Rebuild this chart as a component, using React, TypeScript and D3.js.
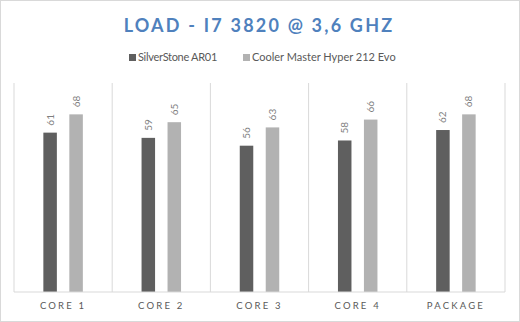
import React from "react";
import * as d3 from "d3";

const categories = ["CORE 1", "CORE 2", "CORE 3", "CORE 4", "PACKAGE"];
const seriesNames = ["SilverStone AR01", "Cooler Master Hyper 212 Evo"];
const silverstone = [61, 59, 56, 58, 62];
const coolerMaster = [68, 65, 63, 66, 68];
const colors = ["#5f5f5f", "#b2b2b2"];

const W = 520, H = 322;
const plot = { left: 14, right: 505, top: 83, bottom: 292 };

export default function App() {
  const x = d3.scaleBand().domain(categories).range([plot.left, plot.right]).padding(0);
  const inner = d3.scaleBand().domain(["0", "1"]).range([0, x.bandwidth()]).paddingInner(0.48).paddingOuter(1.13);
  const y = d3.scaleLinear().domain([0, 80]).range([plot.bottom, plot.top]);
  const series = [silverstone, coolerMaster];
  const font = "Lato, 'Open Sans', sans-serif";

  return (
    <svg width={W} height={H} style={{ position: "absolute", left: 0, top: 0, fontFamily: font }}>
      <rect x={0.5} y={0.5} width={W - 1} height={H - 1} fill="#fff" stroke="#d9d9d9" />
      <text x={259} y={32} textAnchor="middle" fill="#4f81bd" fontSize={18} fontWeight="bold" letterSpacing={2.2}>
        LOAD - I7 3820 @ 3,6 GHZ
      </text>
      {/* legend */}
      <g fontSize={11} fill="#595959">
        <rect x={129} y={54} width={7} height={7} fill={colors[0]} />
        <text x={138} y={61} letterSpacing={-0.3}>{seriesNames[0]}</text>
        <rect x={243} y={54} width={7} height={7} fill={colors[1]} />
        <text x={252} y={61}>{seriesNames[1]}</text>
      </g>
      {/* gridlines / separators */}
      {categories.map((c, i) => (
        <line key={"g" + i} x1={x(c)!} x2={x(c)!} y1={plot.top} y2={plot.bottom} stroke="#d9d9d9" />
      ))}
      <line x1={plot.right} x2={plot.right} y1={plot.top} y2={plot.bottom} stroke="#d9d9d9" />
      {/* bars */}
      {series.map((vals, s) =>
        vals.map((v, i) => {
          const bx = x(categories[i])! + inner(String(s))!;
          const bw = inner.bandwidth();
          return (
            <g key={s + "-" + i}>
              <rect x={bx} y={y(v)} width={bw} height={plot.bottom - y(v)} fill={colors[s]} />
              <text
                transform={`translate(${bx + bw / 2 + 3.5},${y(v) - 7}) rotate(-90)`}
                fontSize={10}
                fill="#7f7f7f"
              >
                {v}
              </text>
            </g>
          );
        })
      )}
      <line x1={plot.left} x2={plot.right} y1={plot.bottom} y2={plot.bottom} stroke="#d9d9d9" />
      {/* category labels */}
      {categories.map((c) => (
        <text key={c} x={x(c)! + x.bandwidth() / 2} y={309} textAnchor="middle" fontSize={9.5} fill="#595959" letterSpacing={2.2}>
          {c}
        </text>
      ))}
    </svg>
  );
}
